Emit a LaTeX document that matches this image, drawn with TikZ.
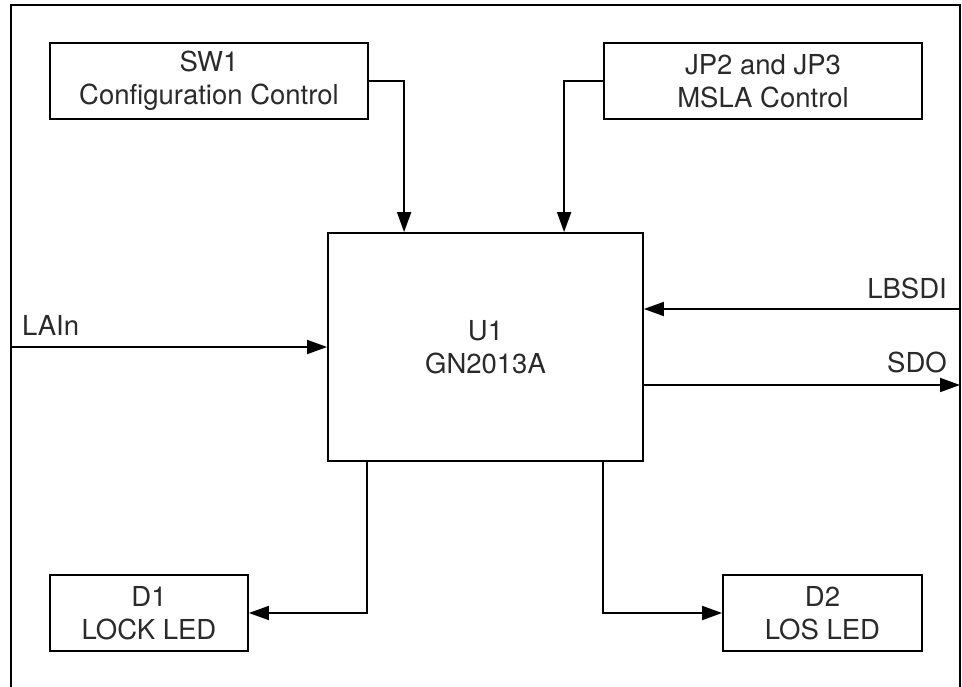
\documentclass[tikz,border=0pt]{standalone}
\usepackage{fontspec}
\setmainfont{TeX Gyre Heros}
\usetikzlibrary{arrows.meta}
\definecolor{txt}{HTML}{2A2A2A}
\begin{document}
\begin{tikzpicture}[x=1pt,y=-1pt,
  blk/.style={draw=black,line width=1.8pt,inner sep=0pt,align=center,text=txt,
    font=\fontsize{27.5}{33}\selectfont},
  lbl/.style={inner sep=0pt,text=txt,font=\fontsize{27.5}{33}\selectfont},
  arr/.style={line width=1.8pt,-{Triangle[length=20pt,width=14pt]}},
  wire/.style={line width=1.8pt}]
\useasboundingbox (0,0) rectangle (962,687);
\begin{scope}
\clip (0,0) rectangle (962,687);
\draw[line width=2pt] (11,710) -- (11,5) -- (960,5) -- (960,710);
\end{scope}
\node[blk,minimum width=318pt,minimum height=76pt] (sw) at (209,81) {SW1\\Configuration Control};
\node[blk,minimum width=318pt,minimum height=76pt] (jp) at (763,81) {JP2 and JP3\\MSLA Control};
\node[blk,minimum width=315pt,minimum height=228pt] (u1) at (485.5,347) {U1\\GN2013A};
\node[blk,minimum width=198pt,minimum height=76pt] (d1) at (149,613) {D1\\LOCK LED};
\node[blk,minimum width=199pt,minimum height=76pt] (d2) at (822.5,613) {D2\\LOS LED};
\coordinate (lain) at (11,347);
\coordinate (lbsdi) at (960,309);
\coordinate (sdo) at (960,385);
\draw[arr] (sw.east) -| ([xshift=77pt]u1.north west);
\draw[arr] (jp.west) -| ([xshift=237pt]u1.north west);
\draw[arr] (lain) -- (u1.west |- lain);
\draw[arr] (lbsdi) -- (u1.east |- lbsdi);
\draw[arr] (u1.east |- sdo) -- (sdo);
\draw[arr] ([xshift=40pt]u1.south west) |- (d1.east);
\draw[arr] ([xshift=276pt]u1.south west) |- (d2.west);
\node[lbl,anchor=base west] (lainl) at (22,336) {LAIn};
\node[lbl,anchor=base east] (lbsdil) at (947,299) {LBSDI};
\node[lbl,anchor=base east] (sdol) at (947,373) {SDO};
\end{tikzpicture}
\end{document}
